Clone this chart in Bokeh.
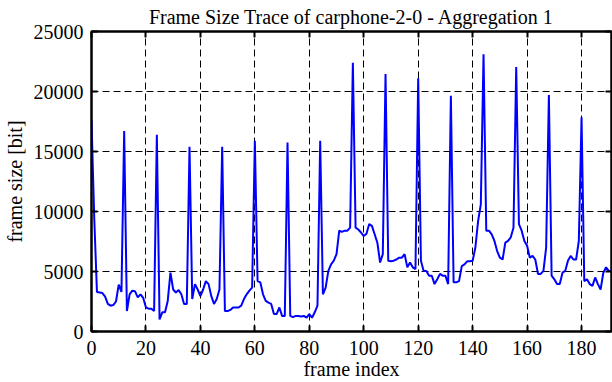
from bokeh.plotting import figure
from bokeh.models import LinearAxis, FixedTicker
from bokeh.embed import file_html
from bokeh.resources import INLINE

# ---- data ----
frame_size = [
    17600, 9500, 3300, 3250, 3200, 2900, 2300, 2150, 2200, 2500,
    3900, 3300, 16700, 1700, 3100, 3400, 3350, 2850, 3100, 2800,
    2000, 1900, 1900, 1700, 16400, 1000, 1600, 1600, 2550, 4900,
    3500, 3250, 3450, 3100, 2300, 2300, 15400, 2700, 3950, 3500,
    2950, 3500, 4200, 3950, 2950, 2300, 2700, 3500, 15400, 1700,
    1700, 1800, 2000, 2000, 2000, 2150, 2700, 3100, 3400, 3650,
    15900, 4200, 4100, 3100, 2550, 2400, 2300, 1450, 1450, 2000,
    1300, 1300, 15750, 1300, 1200, 1300, 1300, 1250, 1300, 1150,
    1450, 1150, 1600, 2150, 15900, 3100, 3650, 5050, 5600, 5900,
    6450, 8400, 8300, 8400, 8400, 8650, 22400, 8650, 8500, 8250,
    7950, 8150, 8950, 8800, 8100, 7400, 5750, 6450, 21450, 5900,
    5850, 5900, 6000, 6150, 6150, 6450, 5350, 5750, 5350, 5200,
    21100, 5900, 5050, 5050, 4650, 4650, 3950, 4350, 4800, 4650,
    4650, 3950, 19650, 4100, 4100, 4200, 5450, 5600, 5850, 5850,
    5900, 7000, 9200, 10600, 23100, 8400, 8400, 8100, 7550, 6700,
    6150, 6000, 7400, 7550, 7850, 8650, 22050, 8950, 8400, 7550,
    7150, 6150, 6300, 6000, 4800, 4800, 5050, 7000, 19700, 4650,
    4350, 3950, 3950, 4900, 5050, 5900, 6300, 6000, 6000, 7550,
    17850, 4200, 4350, 3950, 3800, 4500, 3950, 3500, 4900, 5350,
    5050, 5050,
]
frame_index = list(range(len(frame_size)))
x_ticks = [0, 20, 40, 60, 80, 100, 120, 140, 160, 180]
y_ticks = [0, 5000, 10000, 15000, 20000, 25000]

FONT = "Liberation Serif"

p = figure(width=612, height=382, x_range=(0, 191), y_range=(0, 25000),
           output_backend="svg", toolbar_location=None,
           min_border_left=91, min_border_right=1, min_border_top=31,
           min_border_bottom=51)

p.title.text = "Frame Size Trace of carphone-2-0 - Aggregation 1"
p.title.align = "center"
p.title.text_font = FONT
p.title.text_font_size = "20px"
p.title.text_font_style = "normal"
p.title.text_color = "black"
p.title.standoff = 7
p.title.offset = 0

p.line(frame_index, frame_size, line_color="#0000ff", line_width=2)

p.outline_line_color = "black"
p.outline_line_width = 2
p.outline_line_alpha = 1

for ax, ticks in ((p.xaxis[0], x_ticks), (p.yaxis[0], y_ticks)):
    ax.ticker = FixedTicker(ticks=ticks)
    ax.major_tick_in = 6
    ax.major_tick_out = 0
    ax.minor_tick_line_color = None
    ax.major_tick_line_width = 2
    ax.axis_line_width = 2
    ax.major_label_text_font = FONT
    ax.major_label_text_font_size = "20px"
    ax.major_label_text_color = "black"
    ax.axis_label_text_font = FONT
    ax.axis_label_text_font_size = "20px"
    ax.axis_label_text_font_style = "normal"
    ax.axis_label_text_color = "black"

p.xaxis[0].axis_label = "frame index"
p.xaxis[0].major_label_standoff = 9
p.xaxis[0].axis_label_standoff = 0
p.yaxis[0].axis_label = "frame size [bit]"
p.yaxis[0].major_label_standoff = 8
p.yaxis[0].axis_label_standoff = 5

# mirrored inward ticks on top and right (no labels drawn)
top = LinearAxis(ticker=FixedTicker(ticks=x_ticks))
right = LinearAxis(ticker=FixedTicker(ticks=y_ticks))
for ax in (top, right):
    ax.major_tick_in = 6
    ax.major_tick_out = 0
    ax.major_tick_line_width = 2
    ax.minor_tick_line_color = None
    ax.major_label_text_color = None
    ax.major_label_text_font_size = "1px"
    ax.major_label_standoff = 0
    ax.axis_line_width = 2
p.add_layout(top, "above")
p.add_layout(right, "right")

p.xgrid.ticker = FixedTicker(ticks=x_ticks)
p.ygrid.ticker = FixedTicker(ticks=y_ticks)
p.grid.grid_line_color = "black"
p.grid.grid_line_dash = "7 4"
p.grid.grid_line_width = 1

open("out.html", "w").write(file_html(p, INLINE))
